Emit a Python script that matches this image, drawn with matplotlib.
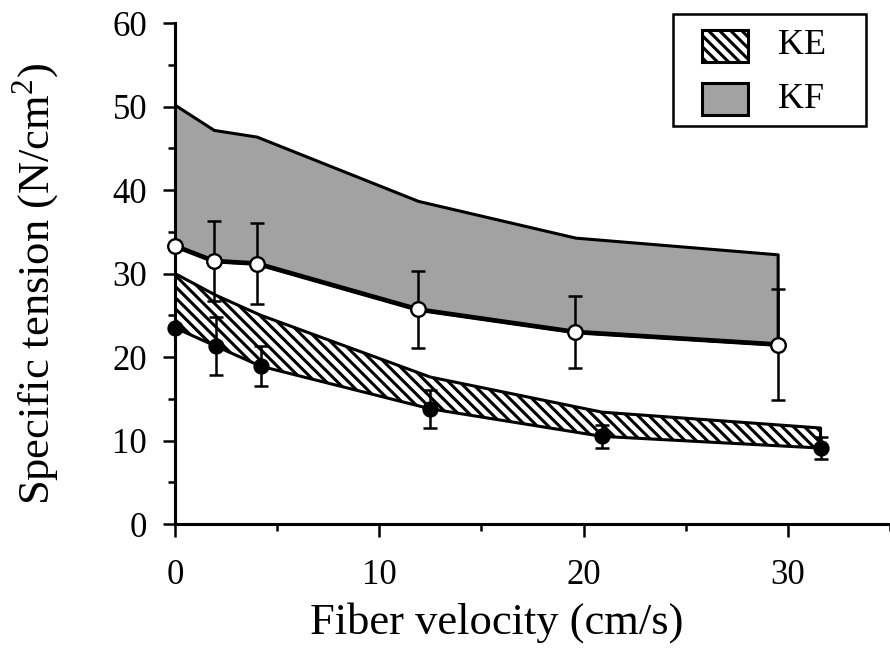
import matplotlib
matplotlib.use('Agg')
import matplotlib.pyplot as plt
from matplotlib.patches import Rectangle
from matplotlib.ticker import MultipleLocator

plt.rcParams['font.family'] = ['Liberation Serif', 'DejaVu Serif']
plt.rcParams['mathtext.fontset'] = 'custom'
plt.rcParams['mathtext.rm'] = 'Liberation Serif'
plt.rcParams['hatch.linewidth'] = 2.2

# KF (open circles) - mean +/- err, upper band edge
kf_x = [0, 1.9, 4.0, 11.9, 19.6, 29.5]
kf_y = [33.3, 31.5, 31.2, 25.7, 23.0, 21.5]
kf_err = [0, 4.8, 4.8, 4.6, 4.3, 6.7]
kf_top = [50.2, 47.2, 46.4, 38.7, 34.3, 32.3]

# KE (filled circles)
ke_x = [0, 2.0, 4.2, 12.5, 20.9, 31.6]
ke_y = [23.5, 21.3, 18.9, 13.8, 10.5, 9.1]
ke_err = [0, 3.5, 2.4, 2.3, 1.4, 1.3]
ke_top = [30.0, 27.4, 25.0, 17.6, 13.4, 11.5]

band_labels = ['KE', 'KF']
GRAY = '#a2a2a2'
HATCH = '\\\\\\'

W, H = 890, 653
fig = plt.figure(figsize=(W / 100, H / 100), dpi=100)
ax = fig.add_axes([0.1966, 0.1975, 0.8034, 0.7672])

# bands
ax.fill_between(kf_x, kf_y, kf_top, facecolor=GRAY, edgecolor='black',
                linewidth=2.2, zorder=1)
ax.plot(kf_x, kf_y, color='black', lw=3.4, zorder=1.5)
ax.fill_between(ke_x, ke_y, ke_top, facecolor='white', edgecolor='black',
                hatch=HATCH, linewidth=2.2, zorder=2)

# error bars (first point has none)
ax.errorbar(kf_x[1:], kf_y[1:], yerr=kf_err[1:], fmt='none', ecolor='black',
            elinewidth=1.8, capsize=5, capthick=1.8, zorder=3)
ax.errorbar(ke_x[1:], ke_y[1:], yerr=ke_err[1:], fmt='none', ecolor='black',
            elinewidth=1.8, capsize=5, capthick=1.8, zorder=3)
ax.plot(kf_x, kf_y, 'o', ms=10.5, mfc='white', mec='black', mew=1.7, zorder=4,
        clip_on=False)
ax.plot(ke_x, ke_y, 'o', ms=10.5, mfc='black', mec='black', mew=1.2, zorder=4,
        clip_on=False)

ax.set_xlim(0, 35)
ax.set_ylim(0, 60)
ax.xaxis.set_major_locator(MultipleLocator(10))
ax.xaxis.set_minor_locator(MultipleLocator(5))
ax.yaxis.set_major_locator(MultipleLocator(10))
ax.yaxis.set_minor_locator(MultipleLocator(5))
for s in ['top', 'right']:
    ax.spines[s].set_visible(False)
for s in ['left', 'bottom']:
    ax.spines[s].set_linewidth(2.2)
ax.tick_params(which='major', direction='out', length=9, width=1.8, labelsize=25)
ax.tick_params(which='minor', direction='out', length=5, width=1.8)
ax.tick_params(axis='y', which='major', pad=11)
ax.tick_params(axis='x', which='major', pad=16)

ax.set_xlabel('Fiber velocity (cm/s)', fontsize=32)
ax.set_ylabel('Specific tension (N/cm$^2$)', fontsize=32)
ax.xaxis.set_label_coords(0.45, -0.155)
ax.yaxis.set_label_coords(-0.158, 0.48)


# legend box drawn by hand in pixel positions
def px(x0, y0, x1, y1):
    return x0 / W, 1 - y1 / H, (x1 - x0) / W, (y1 - y0) / H


x, y, w, h = px(673, 14, 866, 126)
fig.add_artist(Rectangle((x, y), w, h, transform=fig.transFigure,
                         facecolor='white', edgecolor='black', lw=1.8, zorder=10))
x, y, w, h = px(702, 30, 748, 62)
fig.add_artist(Rectangle((x, y), w, h, transform=fig.transFigure,
                         facecolor='white', edgecolor='black', hatch=HATCH, lw=2.2,
                         zorder=11))
x, y, w, h = px(702, 83, 748, 115)
fig.add_artist(Rectangle((x, y), w, h, transform=fig.transFigure,
                         facecolor=GRAY, edgecolor='black', lw=2.2, zorder=11))
fig.text(778 / W, 1 - 46 / H, band_labels[0], fontsize=26, va='center', ha='left',
         zorder=12)
fig.text(778 / W, 1 - 99 / H, band_labels[1], fontsize=26, va='center', ha='left',
         zorder=12)

fig.savefig('out.png', dpi=100)
